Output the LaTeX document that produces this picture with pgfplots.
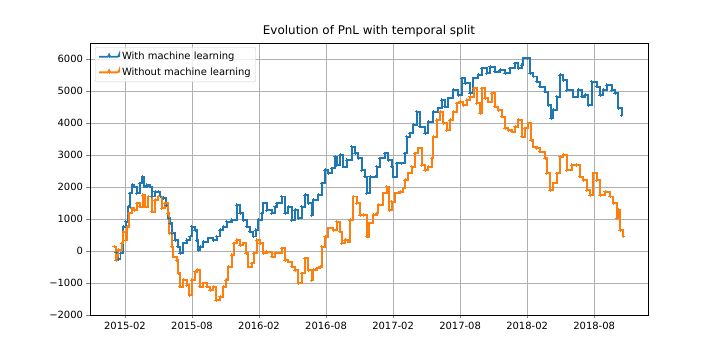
\documentclass[border=0pt]{standalone}
\usepackage{fontspec}
\setmainfont{DejaVu Sans}
\usepackage{pgfplots}
\pgfplotsset{compat=1.18}

\definecolor{mplblue}{HTML}{1F77B4}
\definecolor{mplorange}{HTML}{FF7F0E}
\definecolor{mplgrid}{HTML}{B0B0B0}

% x = months after 2015-02, y = PnL
\begin{document}
\begin{tikzpicture}
\begin{axis}[
  scale only axis,
  width=558bp, height=272bp,
  xmin=-3.13, xmax=46.82,
  ymin=-2000, ymax=6500,
  xtick={0,6,...,42},
  xticklabels={2015-02,2015-08,2016-02,2016-08,2017-02,2017-08,2018-02,2018-08},
  ytick={-2000,-1000,...,6000},
  yticklabels={−2000,−1000,0,1000,2000,3000,4000,5000,6000},
  tick label style={font=\fontsize{10}{12}\selectfont},
  tick align=outside,
  major tick length=3.5bp,
  xtick pos=bottom, ytick pos=left,
  grid=major,
  grid style={mplgrid, line width=0.8bp},
  axis line style={line width=0.8bp},
  title={Evolution of PnL with temporal split},
  title style={font=\fontsize{12}{14}\selectfont, yshift=-3bp},
  legend cell align=left,
  legend image code/.code={
    \draw[#1, mark repeat=2, mark phase=2] plot coordinates {(0bp,0bp) (10bp,0bp) (20bp,0bp)};},
  legend style={at={(0.009,0.985)}, anchor=north west, draw=mplgrid!60,
    rounded corners=2bp, fill=white, fill opacity=0.8, text opacity=1,
    font=\fontsize{10}{12}\selectfont, inner xsep=3bp, inner ysep=3bp,
    row sep=2.5bp},
  every axis plot/.append style={const plot, line width=1.8bp,
    mark=+, mark size=1.6bp, mark options={line width=0.7bp}},
]
\addplot[mplblue] coordinates {
(-0.8,-50) (-0.6,-250) (-0.4,-70) (-0.15,760) (0.06,915) (0.30,1385) (0.45,1800)
(0.65,2060) (0.83,2010) (1.05,1800) (1.34,2115) (1.55,2320) (1.73,2010)
(1.94,2060) (2.24,2010) (2.39,1700) (2.69,1850) (2.98,1850) (3.13,1700)
(3.43,1650) (3.67,1440) (3.88,1020) (4.03,865) (4.18,550) (4.48,345)
(4.72,135) (4.92,-70) (5.22,240) (5.52,345) (5.82,450) (5.97,760)
(6.27,655) (6.42,345) (6.56,30) (6.71,135) (7.01,290) (7.46,400)
(7.91,345) (8.21,450) (8.50,655) (8.80,760) (9.10,915) (9.55,970)
(10.0,1440) (10.30,1180) (10.59,970) (10.90,760) (11.19,600) (11.49,450)
(11.70,655) (11.93,970) (12.24,1180) (12.38,1490) (12.69,1280) (13.13,1180)
(13.43,1385) (13.58,1490) (14.03,1700) (14.32,1180) (14.62,1385) (14.92,970)
(15.22,1280) (15.51,1020) (15.82,1385) (16.11,1750) (16.41,1490) (16.71,1125)
(16.86,1595) (17.31,1750) (17.61,2115) (17.91,2530) (18.20,2430) (18.50,2585)
(18.80,2950) (18.95,2690) (19.25,3000) (19.54,2635) (19.85,2845) (20.30,3260)
(20.59,3050) (20.89,2900) (21.19,2530) (21.49,2320) (21.64,1800) (21.93,2320)
(22.38,2320) (22.53,2635) (22.83,2900) (23.28,3050) (23.57,2845) (23.88,2635)
(24.02,2320) (24.32,2740) (24.77,2740) (25.07,3050) (25.22,3570) (25.51,3680)
(25.81,3940) (26.11,4350) (26.41,3885) (26.86,3680) (27.15,4040) (27.60,4350)
(28.05,4460) (28.35,4720) (28.65,4510) (28.94,4770) (29.39,5030) (29.84,4875)
(30.14,5400) (30.44,5240) (30.89,4930) (31.18,5400) (31.63,5500) (31.93,5710)
(32.38,5550) (32.68,5760) (33.12,5600) (33.57,5655) (34.02,5550) (34.47,5710)
(34.91,5865) (35.21,5710) (35.51,5810) (35.66,6020) (36.02,6020) (36.26,5550)
(36.56,5450) (36.86,5290) (37.15,5135) (37.60,4980) (37.90,4560) (38.14,4150)
(38.34,4405) (38.65,4820) (38.94,5500) (39.24,5345) (39.54,5030) (40.13,4820)
(40.58,5030) (40.89,4820) (41.18,4875) (41.48,4560) (41.78,5290) (42.23,5135)
(42.52,4875) (42.82,5030) (43.12,5190) (43.57,5030) (43.87,4930) (44.16,4460)
(44.47,4250)
};
\addlegendentry{With machine learning}
\addplot[mplorange] coordinates {
(-0.98,135) (-0.81,-280) (-0.60,30) (-0.30,240) (-0.15,600) (0.06,345)
(0.21,760) (0.36,1180) (0.60,1335) (0.83,1280) (1.05,1490) (1.34,1385)
(1.58,1750) (1.79,1385) (2.09,1700) (2.39,1230) (2.69,1595) (2.98,1700)
(3.29,1335) (3.58,1490) (3.82,1180) (3.97,550) (4.18,135) (4.32,-180)
(4.63,-280) (4.77,-700) (4.92,-1115) (5.22,-905) (5.52,-1060) (5.76,-1375)
(5.97,-905) (6.27,-645) (6.47,-595) (6.71,-1115) (7.01,-1010) (7.31,-1115)
(7.61,-1220) (7.91,-1115) (8.15,-1530) (8.50,-1430) (8.80,-1115) (9.04,-905)
(9.25,-490) (9.55,-125) (9.76,240) (10.0,345) (10.30,190) (10.59,240)
(10.83,-70) (11.04,-490) (11.34,-385) (11.55,-70) (11.79,345) (12.09,240)
(12.38,-70) (12.69,-20) (13.13,-180) (13.43,-70) (14.03,85) (14.32,-280)
(14.62,-335) (14.92,-490) (15.22,-595) (15.51,-1010) (15.82,-700) (16.11,-230)
(16.41,-595) (16.71,-905) (16.86,-595) (17.16,-540) (17.46,-490) (17.61,135)
(17.91,445) (18.20,710) (18.65,655) (18.95,915) (19.25,600) (19.40,240)
(19.69,345) (19.99,290) (20.14,970) (20.44,1700) (20.74,1490) (21.04,1125)
(21.34,1125) (21.64,445) (21.87,865) (22.23,1125) (22.53,1180) (22.68,1440)
(23.12,1800) (23.43,2010) (23.66,1280) (23.88,1540) (24.17,1800) (24.62,1850)
(24.92,1960) (25.07,2220) (25.36,2430) (25.67,2635) (25.96,3050) (26.26,3210)
(26.56,2690) (26.86,2530) (27.15,2635) (27.46,2900) (27.60,3570) (27.90,4095)
(28.20,4350) (28.50,3990) (28.80,3780) (29.10,4095) (29.39,4350) (29.70,4615)
(29.99,4665) (30.29,4560) (30.59,4720) (30.89,4820) (31.24,5085) (31.49,4615)
(31.78,4300) (31.93,5085) (32.23,4770) (32.53,4665) (32.83,4930) (33.12,4510)
(33.42,4405) (33.72,4195) (34.02,3835) (34.32,3780) (34.62,3730) (34.91,3885)
(35.21,4095) (35.51,3570) (35.81,3835) (36.11,3990) (36.35,3470) (36.56,3260)
(36.86,3210) (37.15,3100) (37.60,2900) (37.75,2430) (38.05,1905) (38.34,2115)
(38.65,2430) (38.94,2945) (39.24,3000) (39.54,2530) (39.99,2690) (40.44,2690)
(40.73,2320) (41.03,2220) (41.33,1905) (41.63,1750) (41.93,2430) (42.23,2220)
(42.52,1750) (42.97,1850) (43.42,1700) (43.72,1490) (44.02,1020) (44.16,1280)
(44.32,655) (44.61,445)
};
\addlegendentry{Without machine learning}
\end{axis}
\path[use as bounding box] ([shift={(-90bp,-45bp)}]current axis.south west)
  rectangle ([shift={(72bp,43bp)}]current axis.north east);
\end{tikzpicture}
\end{document}
